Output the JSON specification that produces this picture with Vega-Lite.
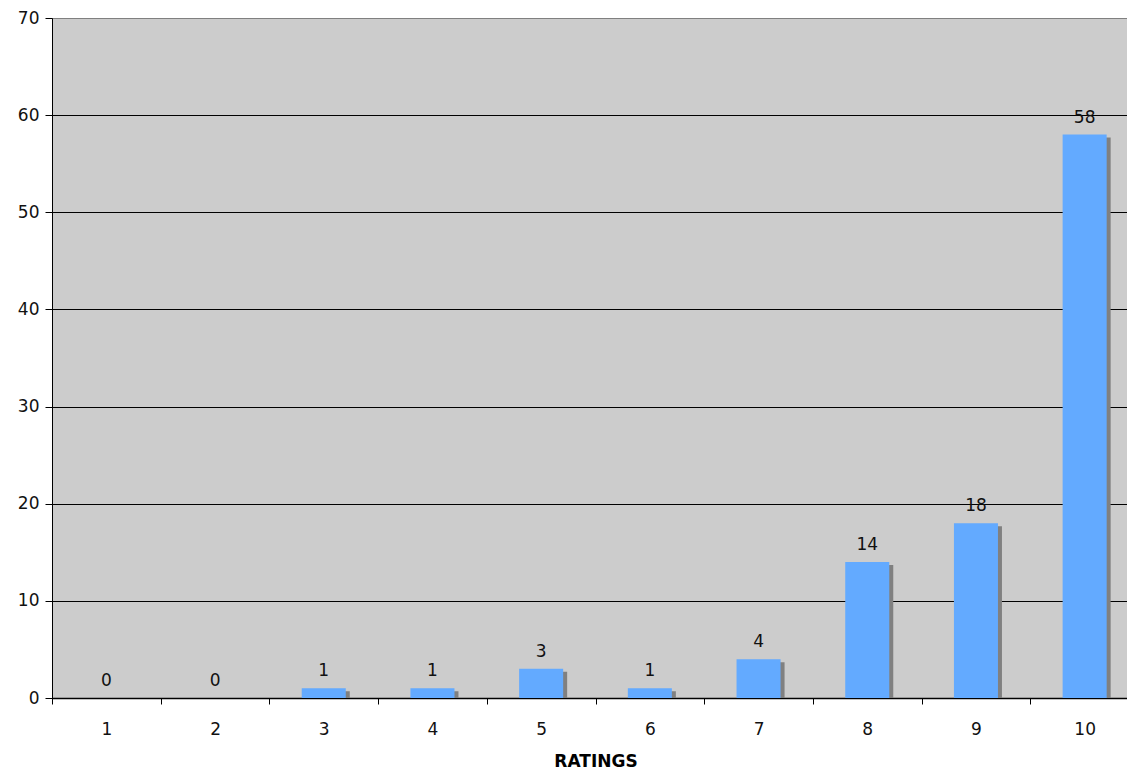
{
  "$schema": "https://vega.github.io/schema/vega-lite/v6.json",
  "width": 1087,
  "height": 680,
  "autosize": {"type": "none"},
  "padding": {"left": 52, "top": 18, "right": 0, "bottom": 72},
  "background": "white",
  "config": {
    "font": "DejaVu Sans",
    "view": {"fill": "#cccccc", "stroke": "#808080", "strokeWidth": 1}
  },
  "data": {
    "values": [
      {"rating": "1", "count": 0},
      {"rating": "2", "count": 0},
      {"rating": "3", "count": 1},
      {"rating": "4", "count": 1},
      {"rating": "5", "count": 3},
      {"rating": "6", "count": 1},
      {"rating": "7", "count": 4},
      {"rating": "8", "count": 14},
      {"rating": "9", "count": 18},
      {"rating": "10", "count": 58}
    ]
  },
  "encoding": {
    "x": {
      "field": "rating",
      "type": "ordinal",
      "sort": null,
      "scale": {"paddingInner": 0.595, "paddingOuter": 0.2975},
      "axis": {
        "title": "RATINGS",
        "titleFontSize": 17,
        "titleFontWeight": "bold",
        "titleColor": "black",
        "titlePadding": 16,
        "labelAngle": 0,
        "labelFontSize": 17,
        "labelColor": "#111111",
        "labelPadding": 17,
        "labelOffset": 54.35,
        "tickOffset": -54.35,
        "tickBand": "center",
        "ticks": true,
        "tickWidth": 1,
        "tickSize": 6,
        "tickColor": "black",
        "domainColor": "black",
        "domainWidth": 1.5,
        "grid": false
      }
    },
    "y": {
      "field": "count",
      "type": "quantitative",
      "scale": {"domain": [0, 70], "nice": false},
      "axis": {
        "title": null,
        "values": [0, 10, 20, 30, 40, 50, 60, 70],
        "labelFontSize": 17,
        "labelColor": "#111111",
        "labelPadding": 6,
        "tickSize": 7,
        "tickColor": "black",
        "domainColor": "black",
        "grid": true,
        "gridColor": {
          "condition": {"test": "datum.value == 70", "value": "#808080"},
          "value": "black"
        },
        "gridOpacity": 1,
        "gridWidth": 1
      }
    }
  },
  "layer": [
    {
      "mark": {
        "type": "bar",
        "color": "#808080",
        "xOffset": 4,
        "yOffset": 3,
        "clip": true
      }
    },
    {
      "mark": {"type": "bar", "color": "#63aaff"}
    },
    {
      "mark": {
        "type": "text",
        "baseline": "alphabetic",
        "dy": -12,
        "fontSize": 17,
        "color": "#111111"
      },
      "encoding": {"text": {"field": "count", "type": "quantitative"}}
    }
  ]
}
